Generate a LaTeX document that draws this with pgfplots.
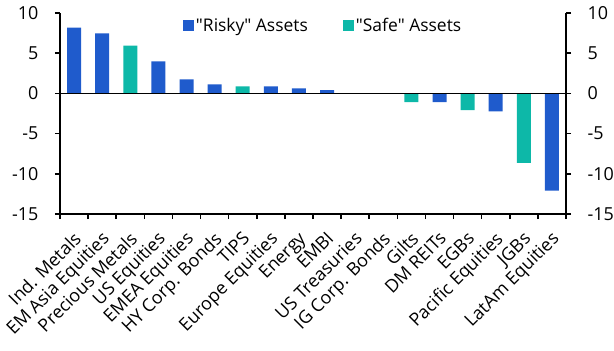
\documentclass[border=0pt]{standalone}
\usepackage{fontspec}
\setmainfont{Open Sans}
\usepackage{pgfplots}
\usepackage{pgfplotstable}
\pgfplotsset{compat=1.18}
\definecolor{risky}{HTML}{1F5BCC}
\definecolor{safe}{HTML}{0DB8A8}
\pgfplotstableread{
x y
0 8.18
1 7.47
3 3.97
4 1.73
5 1.12
7 0.87
8 0.62
9 0.41
13 -1.08
15 -2.23
17 -12.1
}\risky
\pgfplotstableread{
x y
2 5.95
6 0.87
12 -1.08
14 -2.07
16 -8.64
}\safe
\begin{document}
\begin{tikzpicture}
\useasboundingbox (0,0) rectangle (614bp,351bp);
\begin{axis}[
 at={(60bp,137bp)}, anchor=south west,
 scale only axis, width=506bp, height=201bp,
 xmin=-0.5, xmax=17.5, ymin=-15, ymax=10,
 axis x line*=bottom, axis y line*=left,
 axis line style={-, line width=1.6bp, black},
 ytick={-15,-10,...,10},
 xtick={0,...,17},
 xticklabels={Ind. Metals,EM Asia Equities,Precious Metals,US Equities,EMEA Equities,HY Corp. Bonds,TIPS,Europe Equities,Energy,EMBI,US Treasuries,IG Corp. Bonds,Gilts,DM REITs,EGBs,Pacific Equities,JGBs,LatAm Equities},
 x tick label style={rotate=45, anchor=north east, inner sep=0pt, yshift=-7bp, xshift=-9bp, font=\fontsize{18}{21}\selectfont},
 y tick label style={font=\fontsize{18}{21}\selectfont},
 yticklabel shift=13bp,
 major x tick style={draw=none},
 minor xtick={-0.5,0.5,...,17.5},
 minor tick length=5bp,
 major tick length=5bp,
 tick align=outside,
 tick style={black, line width=1.6bp},
 /pgf/number format/assume math mode=true,
 legend style={draw=none, fill=none, at={(0.52,0.995)}, anchor=north, font=\fontsize{17.5}{20}\selectfont, legend columns=2, nodes={inner xsep=2bp}, /tikz/every even column/.append style={column sep=33bp}},
 legend image code/.code={\fill[#1] (0bp,-5.5bp) rectangle (11bp,5.5bp);},
]
\addplot[ybar, bar width=14bp, bar shift=0pt, fill=risky, draw=none] table {\risky};
\addlegendentry{\textquotedbl Risky\textquotedbl\ Assets}
\addplot[ybar, bar width=14bp, bar shift=0pt, fill=safe, draw=none] table {\safe};
\addlegendentry{\textquotedbl Safe\textquotedbl\ Assets}
\addplot[black, line width=1.6bp, forget plot] coordinates {(-0.5,0) (17.5,0)};
\end{axis}
\begin{axis}[
 at={(60bp,137bp)}, anchor=south west,
 scale only axis, width=506bp, height=201bp,
 xmin=-0.5, xmax=17.5, ymin=-15, ymax=10,
 axis x line=none, axis y line*=right,
 axis line style={-, line width=1.6bp, black},
 ytick={-15,-10,...,10},
 major tick length=5bp,
 tick align=outside,
 tick style={black, line width=1.6bp},
 y tick label style={font=\fontsize{18}{21}\selectfont},
 yticklabel shift=13bp,
 /pgf/number format/assume math mode=true,
]
\end{axis}
\end{tikzpicture}
\end{document}
